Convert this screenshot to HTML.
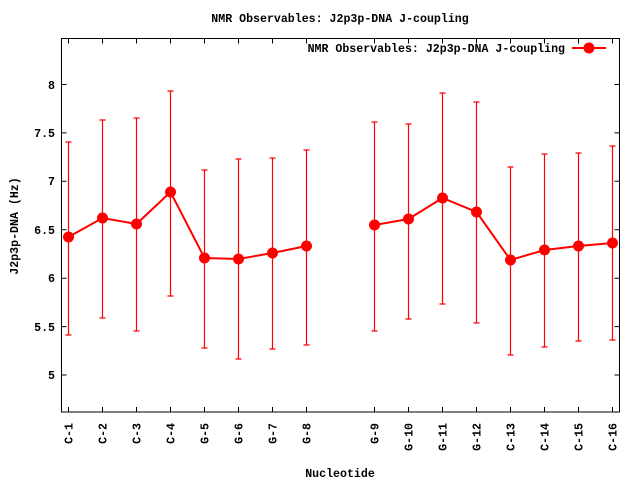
<!DOCTYPE html>
<html><head><meta charset="utf-8"><style>
html,body{margin:0;padding:0;background:#fff;}
svg{display:block;}
text{font-family:"Liberation Mono",monospace;font-weight:bold;font-size:11.6px;fill:#000;}
</style></head><body>
<svg width="640" height="480" viewBox="0 0 640 480" xmlns="http://www.w3.org/2000/svg">
<text x="340" y="22" text-anchor="middle">NMR Observables: J2p3p-DNA J-coupling</text>
<rect x="61.5" y="38.5" width="558" height="373.5" fill="none" stroke="#000" stroke-width="1"/>
<g stroke="#000" stroke-width="1" id="yt">
<path d="M61.5 375H66.5M619.5 375H614.5M61.5 326.6H66.5M619.5 326.6H614.5M61.5 278.2H66.5M619.5 278.2H614.5M61.5 229.7H66.5M619.5 229.7H614.5M61.5 181.3H66.5M619.5 181.3H614.5M61.5 132.9H66.5M619.5 132.9H614.5M61.5 84.5H66.5M619.5 84.5H614.5"/>
</g>
<g text-anchor="end">
<text x="55" y="379">5</text><text x="55" y="331">5.5</text><text x="55" y="282">6</text><text x="55" y="234">6.5</text><text x="55" y="185">7</text><text x="55" y="137">7.5</text><text x="55" y="89">8</text>
</g>
<text transform="translate(18,226) rotate(-90)" text-anchor="middle">J2p3p-DNA (Hz)</text>
<text x="340" y="477" text-anchor="middle">Nucleotide</text>
<g id="xt" stroke="#000" stroke-width="1"></g>
<g id="xl"></g>
<g id="data" stroke="red" fill="red" stroke-width="1.2"></g>
<text x="565" y="52" text-anchor="end">NMR Observables: J2p3p-DNA J-coupling</text>
<line x1="572" y1="48" x2="606" y2="48" stroke="red" stroke-width="2"/>
<circle cx="589" cy="48" r="5.5" fill="red"/>
<script>
var names=["C-1","C-2","C-3","C-4","G-5","G-6","G-7","G-8","G-9","G-10","G-11","G-12","C-13","C-14","C-15","C-16"];
var slot=[0,1,2,3,4,5,6,7,9,10,11,12,13,14,15,16];
var cy=[237,218,224,192,258,259,253,246,225,219,198,212,260,250,246,243];
var lo=[335,318,331,296,348,359,349,345,331,319,304,323,355,347,341,340];
var hi=[142,120,118,91,170,159,158,150,122,124,93,102,167,154,153,146];
var NS="http://www.w3.org/2000/svg";
function el(t,a,p){var e=document.createElementNS(NS,t);for(var k in a)e.setAttribute(k,a[k]);p.appendChild(e);return e;}
var xt=document.getElementById("xt"),xl=document.getElementById("xl"),dg=document.getElementById("data");
var p1=[],p2=[];
for(var i=0;i<16;i++){
 var x=68.5+34*slot[i];
 el("path",{d:"M"+x+" 412V407M"+x+" 38.5V43.5"},xt);
 var t=el("text",{transform:"translate("+(x+4)+",423) rotate(-90)","text-anchor":"end"},xl);t.textContent=names[i];
 el("path",{d:"M"+x+" "+lo[i]+"V"+hi[i]+"M"+(x-3)+" "+lo[i]+"H"+(x+3)+"M"+(x-3)+" "+hi[i]+"H"+(x+3),fill:"none"},dg);
 (i<8?p1:p2).push(x+","+cy[i]);
}
el("polyline",{points:p1.join(" "),fill:"none","stroke-width":"2"},dg);
el("polyline",{points:p2.join(" "),fill:"none","stroke-width":"2"},dg);
for(var i=0;i<16;i++){var x=68.5+34*slot[i];el("circle",{cx:x,cy:cy[i],r:5.5,stroke:"none"},dg);}
</script>
</svg>
</body></html>
